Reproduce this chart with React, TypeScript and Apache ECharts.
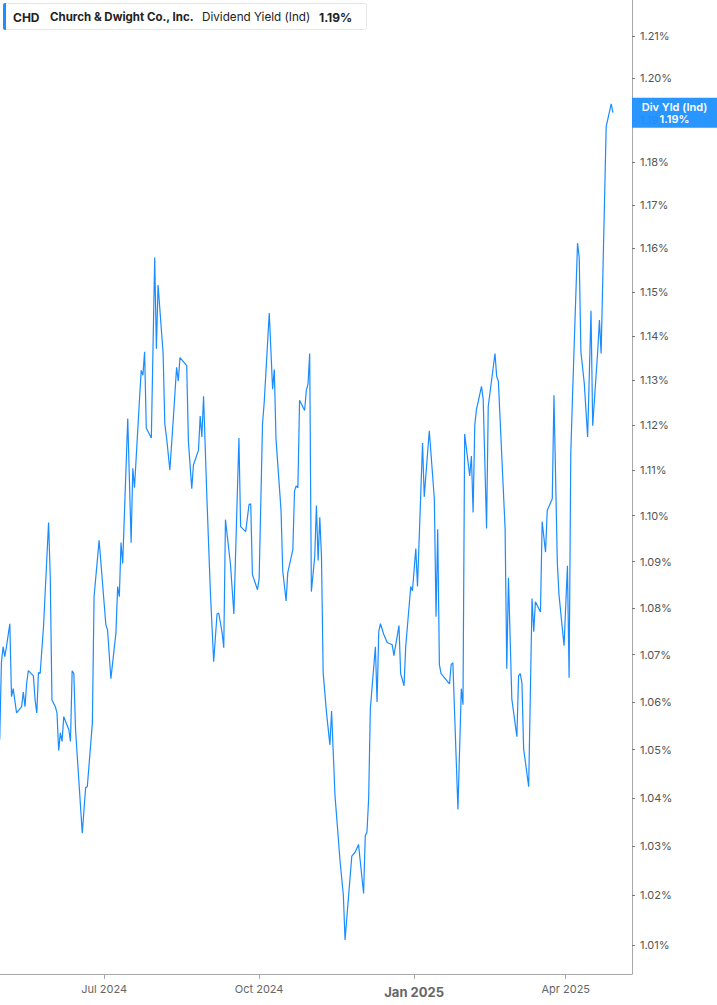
import React, { useEffect, useRef } from 'react';
import * as echarts from 'echarts';

const ticker = 'CHD';
const company = 'Church & Dwight Co., Inc.';
const metric = 'Dividend Yield (Ind)';
const badgeName = 'Div Yld (Ind)';

const dates = [
  '2024-04-30','2024-05-01','2024-05-02','2024-05-03','2024-05-04','2024-05-06','2024-05-07','2024-05-08','2024-05-10','2024-05-13',
  '2024-05-14','2024-05-15','2024-05-16','2024-05-17','2024-05-20','2024-05-21','2024-05-22','2024-05-23','2024-05-24','2024-05-26',
  '2024-05-29','2024-05-30','2024-05-31','2024-06-02','2024-06-03','2024-06-04','2024-06-05','2024-06-06','2024-06-07','2024-06-10',
  '2024-06-11','2024-06-12','2024-06-13','2024-06-14','2024-06-18','2024-06-20','2024-06-21','2024-06-24','2024-06-25','2024-06-28',
  '2024-07-02','2024-07-03','2024-07-05','2024-07-08','2024-07-09','2024-07-10','2024-07-11','2024-07-12','2024-07-15','2024-07-17',
  '2024-07-18','2024-07-19','2024-07-22','2024-07-23','2024-07-24','2024-07-25','2024-07-26','2024-07-29','2024-07-31','2024-08-01',
  '2024-08-02','2024-08-05','2024-08-06','2024-08-07','2024-08-09','2024-08-11','2024-08-13','2024-08-14','2024-08-15','2024-08-19',
  '2024-08-20','2024-08-22','2024-08-23','2024-08-26','2024-08-27','2024-08-28','2024-08-29','2024-08-31','2024-09-02','2024-09-04',
  '2024-09-06','2024-09-07','2024-09-09','2024-09-10','2024-09-11','2024-09-14','2024-09-16','2024-09-19','2024-09-20','2024-09-23',
  '2024-09-25','2024-09-26','2024-09-27','2024-09-30','2024-10-01','2024-10-03','2024-10-04','2024-10-07','2024-10-09','2024-10-10',
  '2024-10-11','2024-10-14','2024-10-15','2024-10-17','2024-10-18','2024-10-21','2024-10-22','2024-10-23','2024-10-24','2024-10-25',
  '2024-10-28','2024-10-29','2024-10-30','2024-10-31','2024-11-01','2024-11-03','2024-11-04','2024-11-05','2024-11-06','2024-11-07',
  '2024-11-08','2024-11-10','2024-11-12','2024-11-13','2024-11-15','2024-11-18','2024-11-20','2024-11-21','2024-11-22','2024-11-25',
  '2024-11-27','2024-11-29','2024-12-02','2024-12-03','2024-12-04','2024-12-05','2024-12-06','2024-12-09','2024-12-10','2024-12-11',
  '2024-12-12','2024-12-14','2024-12-16','2024-12-19','2024-12-20','2024-12-23','2024-12-24','2024-12-26','2024-12-27','2024-12-30',
  '2024-12-31','2025-01-02','2025-01-03','2025-01-06','2025-01-07','2025-01-10','2025-01-13','2025-01-14','2025-01-15','2025-01-16',
  '2025-01-17','2025-01-22','2025-01-23','2025-01-24','2025-01-27','2025-01-29','2025-01-30','2025-01-31','2025-02-03','2025-02-04',
  '2025-02-05','2025-02-06','2025-02-07','2025-02-10','2025-02-11','2025-02-13','2025-02-14','2025-02-18','2025-02-19','2025-02-20',
  '2025-02-24','2025-02-25','2025-02-26','2025-02-28','2025-03-03','2025-03-04','2025-03-05','2025-03-06','2025-03-07','2025-03-10',
  '2025-03-12','2025-03-13','2025-03-14','2025-03-17','2025-03-18','2025-03-20','2025-03-21','2025-03-24','2025-03-25','2025-03-27',
  '2025-03-28','2025-03-31','2025-04-02','2025-04-03','2025-04-04','2025-04-05','2025-04-08','2025-04-09','2025-04-10','2025-04-12',
  '2025-04-14','2025-04-16','2025-04-17','2025-04-20','2025-04-21','2025-04-22','2025-04-25','2025-04-28','2025-04-29'
];

const yields = [
  1.0521,1.0683,1.0717,1.0696,1.0717,1.0766,1.0611,1.0628,1.0577,1.0590,
  1.0621,1.0590,1.0640,1.0666,1.0655,1.0604,1.0577,1.0662,1.0660,1.0760,
  1.0985,1.0867,1.0604,1.0590,1.0577,1.0498,1.0535,1.0517,1.0569,1.0542,
  1.0517,1.0666,1.0660,1.0542,1.0327,1.0421,1.0423,1.0556,1.0824,1.0946,
  1.0764,1.0753,1.0649,1.0747,1.0846,1.0824,1.0941,1.0896,1.1214,1.0941,
  1.1104,1.1061,1.1259,1.1322,1.1311,1.1364,1.1193,1.1171,1.1579,1.1371,
  1.1516,1.1360,1.1202,1.1173,1.1100,1.1211,1.1329,1.1298,1.1351,1.1333,
  1.1164,1.1059,1.1111,1.1144,1.1220,1.1173,1.1264,1.1037,1.0839,1.0685,
  1.0787,1.0789,1.0747,1.0715,1.0991,1.0893,1.0787,1.1171,1.0976,1.0965,
  1.1024,1.1026,1.0872,1.0839,1.0863,1.1202,1.1250,1.1452,1.1280,1.1324,
  1.1169,1.1011,1.0880,1.0815,1.0876,1.0926,1.1054,1.1065,1.1061,1.1255,
  1.1232,1.1277,1.1291,1.1360,1.0835,1.0911,1.1022,1.0902,1.0996,1.0911,
  1.0662,1.0577,1.0510,1.0581,1.0406,1.0271,1.0200,1.0110,1.0153,1.0280,
  1.0288,1.0304,1.0204,1.0322,1.0329,1.0398,1.0585,1.0717,1.0600,1.0749,
  1.0766,1.0743,1.0726,1.0721,1.0698,1.0762,1.0660,1.0634,1.0717,1.0846,
  1.0837,1.0928,1.0846,1.1160,1.1041,1.1187,1.1037,1.0781,1.0970,1.0679,
  1.0660,1.0638,1.0679,1.0683,1.0376,1.0628,1.0594,1.1180,1.1087,1.1131,
  1.1007,1.1200,1.1234,1.1286,1.1257,1.0972,1.1241,1.1360,1.1309,1.1298,
  1.0972,1.0670,1.0865,1.0606,1.0527,1.0655,1.0660,1.0640,1.0502,1.0423,
  1.0820,1.0749,1.0813,1.0791,1.0987,1.0920,1.1011,1.1037,1.1266,1.0898,
  1.0828,1.0719,1.0891,1.0651,1.1138,1.1261,1.1612,1.1579,1.1364,1.1293,
  1.1173,1.1457,1.1198,1.1367,1.1436,1.1360,1.1884,1.1938,1.1917
];

const yTicks = [1.01, 1.02, 1.03, 1.04, 1.05, 1.06, 1.07, 1.08, 1.09, 1.10, 1.11, 1.12, 1.13, 1.14, 1.15, 1.16, 1.17, 1.18, 1.19, 1.20, 1.21];
const xTickDates = ['2024-07-01', '2024-10-01', '2025-01-01', '2025-04-01'];
const xTickLabels = ['Jul 2024', 'Oct 2024', 'Jan 2025', 'Apr 2025'];
const yearTickLabel = 'Jan 2025';

const parseDay = (s: string, h = 0) => {
  const [y, m, d] = s.split('-').map(Number);
  return Date.UTC(y, m - 1, d, h);
};

export default function App() {
  const ref = useRef<HTMLDivElement>(null);
  useEffect(() => {
    if (!ref.current) return;
    const chart = echarts.init(ref.current, null, { renderer: 'svg' });
    const last = yields[yields.length - 1];
    const lastLabel = last.toFixed(2) + '%';
    const data = dates.map((d, i) => [parseDay(d), Math.log(yields[i])]);
    const xTs = xTickDates.map((s) => parseDay(s));
    const yLog = yTicks.map((v) => Math.log(v));
    const font = 'Inter, Roboto, sans-serif';
    const xMin = parseDay('2024-04-30', 4);
    const xMax = parseDay('2025-05-10', 8);
    chart.setOption({
      animation: false,
      backgroundColor: '#ffffff',
      textStyle: { fontFamily: font },
      grid: { left: 0, right: 85, top: 0, bottom: 31, containLabel: false },
      xAxis: {
        type: 'value',
        min: xMin,
        max: xMax,
        axisLine: { show: true, lineStyle: { color: '#a8a8a8', width: 1 } },
        axisTick: { show: true, customValues: xTs, length: 5, lineStyle: { color: '#a8a8a8' } },
        axisLabel: {
          customValues: xTs,
          margin: 9,
          color: '#666',
          fontSize: 11,
          fontFamily: font,
          formatter: (v: number) => {
            let best = 0;
            xTs.forEach((t, i) => { if (Math.abs(t - v) < Math.abs(xTs[best] - v)) best = i; });
            const lbl = xTickLabels[best];
            return lbl === yearTickLabel ? `{yr|${lbl}}` : lbl;
          },
          rich: { yr: { fontSize: 13, fontWeight: 'bold', color: '#666', fontFamily: font, padding: [2, 0, 0, 0] } },
        },
        splitLine: { show: false },
      },
      yAxis: {
        type: 'value',
        position: 'right',
        min: Math.log(1.0042),
        max: Math.log(1.2187),
        axisLine: { show: true, lineStyle: { color: '#a8a8a8', width: 1 } },
        axisTick: { show: true, customValues: yLog, length: 3, lineStyle: { color: '#777' } },
        axisLabel: {
          customValues: yLog,
          margin: 8,
          color: '#555',
          fontSize: 11,
          fontFamily: font,
          formatter: (v: number) => Math.exp(v).toFixed(2) + '%',
        },
        splitLine: { show: false },
      },
      series: [
        {
          type: 'line',
          data,
          symbol: 'none',
          showSymbol: false,
          lineStyle: { color: '#1a8cff', width: 1.2 },
        },
      ],
      graphic: [
        { type: 'rect', x: 3.5, y: 3.5, shape: { width: 363, height: 26, r: 2 }, style: { fill: '#fff', stroke: '#e6e6e6', lineWidth: 1 }, z: 100 },
        { type: 'rect', x: 3, y: 3, shape: { width: 3, height: 27, r: [2, 0, 0, 2] }, style: { fill: '#1e8fff' }, z: 101 },
        { type: 'text', x: 13, y: 17, z: 102, style: { text: ticker, fontSize: 12, fontWeight: 'bold', fontFamily: font, fill: '#222', verticalAlign: 'middle' } },
        { type: 'text', x: 50, y: 17, z: 102, style: { text: company, fontSize: 11.5, fontWeight: 'bold', fontFamily: font, fill: '#222', verticalAlign: 'middle' } },
        { type: 'text', x: 202, y: 17, z: 102, style: { text: metric, fontSize: 11.7, fontFamily: font, fill: '#222', verticalAlign: 'middle' } },
        { type: 'text', x: 319, y: 17, z: 102, style: { text: lastLabel, fontSize: 12, fontWeight: 'bold', fontFamily: font, fill: '#222', verticalAlign: 'middle' } },
      ],
    });
    // Badge for the latest value, placed through the chart's own scales
    const p = chart.convertToPixel({ gridIndex: 0 }, [xMax, Math.log(last)]) as number[];
    if (p && isFinite(p[0]) && isFinite(p[1])) {
      const bx = p[0];
      const by = p[1];
      const bw = 717 - bx;
      chart.setOption({
        graphic: [
          { id: 'badgeBg', type: 'rect', x: bx, y: by - 15, shape: { width: bw, height: 30 }, style: { fill: 'rgba(30,143,255,0.95)' }, z: 110 },
          {
            id: 'badgeTxt', type: 'text', x: bx + bw / 2, y: by, z: 111,
            style: { text: `${badgeName}\n${lastLabel}`, fill: '#fff', fontSize: 11, fontWeight: 600, fontFamily: font, align: 'center', verticalAlign: 'middle', lineHeight: 12 },
          },
        ],
      });
    }
    return () => chart.dispose();
  }, []);
  return <div ref={ref} style={{ position: 'absolute', left: 0, top: 0, width: 717, height: 1005 }} />;
}
